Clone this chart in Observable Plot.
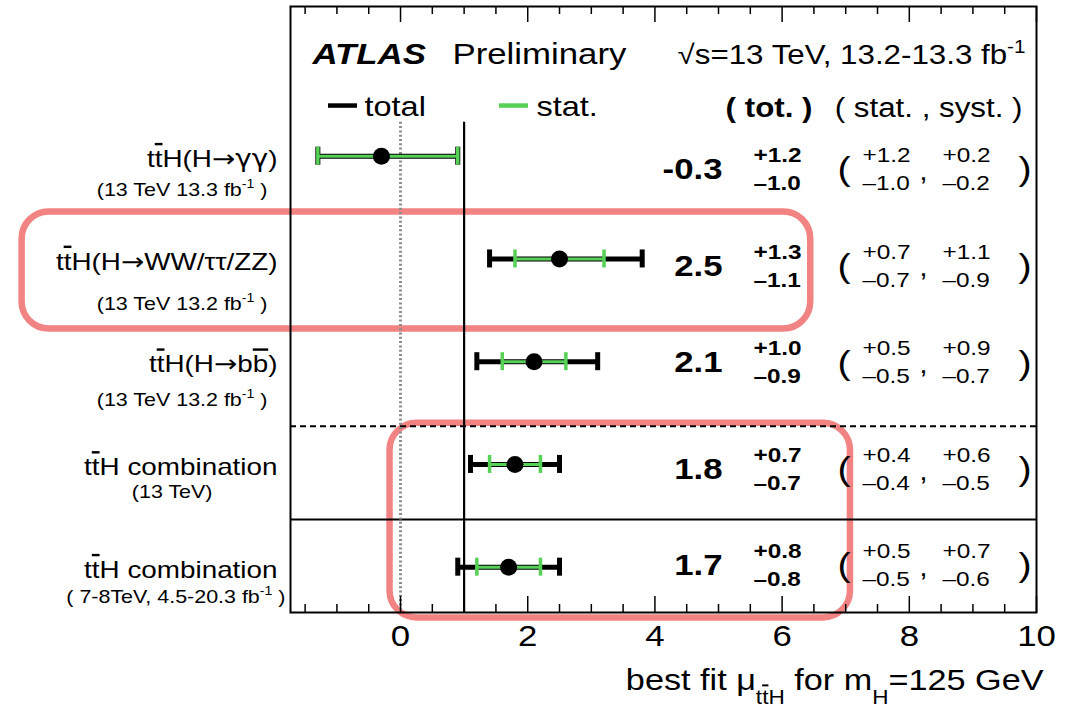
<!DOCTYPE html>
<html>
<head>
<meta charset="utf-8">
<script src="https://cdn.jsdelivr.net/npm/d3@7"></script>
<script src="https://cdn.jsdelivr.net/npm/@observablehq/plot@0.6"></script>
<style>
  html, body { margin: 0; padding: 0; background: #fff; }
  #chart svg { display: block; overflow: visible; }
</style>
</head>
<body>
<div id="chart"></div>
<script>
// ttH signal-strength summary: best-fit mu with total and statistical uncertainties
const channels = [
  "t#bar{t}H(H→γγ)",
  "t#bar{t}H(H→WW/ττ/ZZ)",
  "t#bar{t}H(H→b#bar{b})",
  "t#bar{t}H combination",
  "t#bar{t}H combination"
];
const datasets = [
  "(13 TeV 13.3 fb^{-1} )",
  "(13 TeV 13.2 fb^{-1} )",
  "(13 TeV 13.2 fb^{-1} )",
  "(13 TeV)",
  "( 7-8TeV, 4.5-20.3 fb^{-1} )"
];
const mu     = [-0.3, 2.5, 2.1, 1.8, 1.7];
const totUp  = [1.2, 1.3, 1.0, 0.7, 0.8];
const totDn  = [1.0, 1.1, 0.9, 0.7, 0.8];
const statUp = [1.2, 0.7, 0.5, 0.4, 0.5];
const statDn = [1.0, 0.7, 0.5, 0.4, 0.5];
const systUp = [0.2, 1.1, 0.9, 0.6, 0.7];
const systDn = [0.2, 0.9, 0.7, 0.5, 0.6];
const xTicks = [0, 2, 4, 6, 8, 10];
const axisTitle = "best fit μ_{t#bar{t}H} for m_{H}=125 GeV";

const rows = channels.map((label, i) => ({
  row: i, label, sub: datasets[i], mu: mu[i],
  totUp: totUp[i], totDn: totDn[i],
  statUp: statUp[i], statDn: statDn[i],
  systUp: systUp[i], systDn: systDn[i]
}));

// layout
const W = 1081, H = 718;
const M = {top: 6, right: 45, bottom: 106, left: 290};
const xDomain = [-1.73, 10];
const yTop = -1.457, yBot = 4.441;              // rows are one unit apart, top to bottom
const pxPerRow = (H - M.top - M.bottom) / (yBot - yTop);
const px = v => v / pxPerRow;                    // pixel length expressed in row units
const GREEN = "#56d156", PINK = "#f28383";
const FONT = "'Liberation Sans', Arial, Helvetica, sans-serif";
const SYMBOL_FONT = "'DejaVu Sans', sans-serif";

// per-row text placement (pixels)
const numDy = [13, 7, 1, 5, -2];
const subDx = [-23, -23, -23, -78, -5];
const subDy = [34, 45, 38, 28, 30];

// highlighted groups (x in mu units, y in row units)
const highlights = [
  {x1: -5.95, x2: 6.45, y1: 0.543, y2: 1.682},
  {x1: -0.165, x2: 7.075, y1: 2.60, y2: 4.494}
];
const dashedSep = 2.628, solidSep = 3.536, legendRow = -0.493, refTop = -0.33;

const minorTicks = d3.range(-1.5, 10, 0.5).filter(v => v % 2 !== 0);
const fmtUp = v => "+" + v.toFixed(1);
const fmtDn = v => "–" + v.toFixed(1);

const rowText = rows.flatMap((d, i) => {
  const c = {y: "row", frameAnchor: "right", lineAnchor: "middle"};
  const n = numDy[i];
  return [
    Plot.text([d], {y: "row", frameAnchor: "left", textAnchor: "end", lineAnchor: "middle",
      dx: -13, dy: 3, fontSize: 24, text: "label"}),
    Plot.text([d], {y: "row", frameAnchor: "left", textAnchor: "end", lineAnchor: "middle",
      dx: subDx[i], dy: subDy[i], fontSize: 18.5, text: "sub"}),
    Plot.text([d], {...c, text: d => d.mu.toFixed(1), textAnchor: "end", dx: -314, dy: n, fontSize: 30, fontWeight: "bold"}),
    Plot.text([d], {...c, text: d => fmtUp(d.totUp), textAnchor: "start", dx: -283, dy: n - 14, fontSize: 21, fontWeight: "bold"}),
    Plot.text([d], {...c, text: d => fmtDn(d.totDn), textAnchor: "start", dx: -283, dy: n + 14, fontSize: 21, fontWeight: "bold"}),
    Plot.text([d], {...c, text: () => "(", textAnchor: "start", dx: -199, dy: n, fontSize: 34}),
    Plot.text([d], {...c, text: d => fmtUp(d.statUp), textAnchor: "start", dx: -174, dy: n - 14, fontSize: 21}),
    Plot.text([d], {...c, text: d => fmtDn(d.statDn), textAnchor: "start", dx: -174, dy: n + 14, fontSize: 21}),
    Plot.text([d], {...c, text: () => ",", textAnchor: "middle", dx: -113, dy: n + 2, fontSize: 26}),
    Plot.text([d], {...c, text: d => fmtUp(d.systUp), textAnchor: "start", dx: -94, dy: n - 14, fontSize: 21}),
    Plot.text([d], {...c, text: d => fmtDn(d.systDn), textAnchor: "start", dx: -94, dy: n + 14, fontSize: 21}),
    Plot.text([d], {...c, text: () => ")", textAnchor: "start", dx: -18, dy: n, fontSize: 34})
  ];
});

const chart = Plot.plot({
  width: W, height: H,
  marginTop: M.top, marginRight: M.right, marginBottom: M.bottom, marginLeft: M.left,
  style: {fontFamily: FONT, background: "white", overflow: "visible"},
  x: {type: "linear", domain: xDomain, axis: null},
  y: {type: "linear", domain: [yTop, yBot], reverse: true, axis: null},
  marks: [
    // highlighted groups
    Plot.rect(highlights, {x1: "x1", x2: "x2", y1: "y1", y2: "y2", rx: 27, ry: 27,
      fill: "none", stroke: PINK, strokeWidth: 6.5}),
    // group separators
    Plot.ruleY([dashedSep], {stroke: "black", strokeWidth: 2, strokeDasharray: "6,4"}),
    Plot.ruleY([solidSep], {stroke: "black", strokeWidth: 2}),
    // mu = 0 and SM (mu = 1) references
    Plot.ruleX([0], {y1: refTop, y2: yBot, stroke: "#8c8c8c", strokeWidth: 3, strokeDasharray: "2,2.3"}),
    Plot.ruleX([1], {y1: refTop, y2: yBot, stroke: "black", strokeWidth: 2.2}),
    // inward ticks, bottom and top
    Plot.ruleX(xTicks, {y1: yBot, y2: yBot - px(16), stroke: "black", strokeWidth: 1.5}),
    Plot.ruleX(minorTicks, {y1: yBot, y2: yBot - px(8), stroke: "black", strokeWidth: 1.5}),
    Plot.ruleX(xTicks, {y1: yTop, y2: yTop + px(16), stroke: "black", strokeWidth: 1.5}),
    Plot.ruleX(minorTicks, {y1: yTop, y2: yTop + px(8), stroke: "black", strokeWidth: 1.5}),
    // total uncertainty
    Plot.ruleY(rows, {y: "row", x1: d => d.mu - d.totDn, x2: d => d.mu + d.totUp, stroke: "black", strokeWidth: 5}),
    Plot.ruleX(rows, {x: d => d.mu - d.totDn, y1: d => d.row - px(9), y2: d => d.row + px(9), stroke: "black", strokeWidth: 5}),
    Plot.ruleX(rows, {x: d => d.mu + d.totUp, y1: d => d.row - px(9), y2: d => d.row + px(9), stroke: "black", strokeWidth: 5}),
    // statistical uncertainty
    Plot.ruleY(rows, {y: "row", x1: d => d.mu - d.statDn, x2: d => d.mu + d.statUp, stroke: GREEN, strokeWidth: 3}),
    Plot.ruleX(rows, {x: d => d.mu - d.statDn, y1: d => d.row - px(9), y2: d => d.row + px(9), stroke: GREEN, strokeWidth: 3.5}),
    Plot.ruleX(rows, {x: d => d.mu + d.statUp, y1: d => d.row - px(9), y2: d => d.row + px(9), stroke: GREEN, strokeWidth: 3.5}),
    // best fit
    Plot.dot(rows, {x: "mu", y: "row", r: 8.5, fill: "black"}),
    // legend
    Plot.ruleY([legendRow], {insetLeft: 38, insetRight: 679, stroke: "black", strokeWidth: 4.5}),
    Plot.ruleY([legendRow], {insetLeft: 209, insetRight: 508, stroke: GREEN, strokeWidth: 4.5}),
    Plot.text(["total"], {frameAnchor: "top-left", textAnchor: "start", lineAnchor: "middle", dx: 74, dy: 101, fontSize: 28}),
    Plot.text(["stat."], {frameAnchor: "top-left", textAnchor: "start", lineAnchor: "middle", dx: 246, dy: 101, fontSize: 28}),
    // header
    Plot.text(["ATLAS"], {frameAnchor: "top-left", textAnchor: "start", lineAnchor: "middle", dx: 22, dy: 48,
      fontSize: 30, fontWeight: "bold", fontStyle: "italic"}),
    Plot.text(["Preliminary"], {frameAnchor: "top-left", textAnchor: "start", lineAnchor: "middle", dx: 162, dy: 48, fontSize: 30}),
    Plot.text(["√s=13 TeV, 13.2-13.3 fb^{-1}"], {frameAnchor: "top-right", textAnchor: "end", lineAnchor: "middle", dx: -11, dy: 49, fontSize: 27}),
    Plot.text(["( tot. )"], {frameAnchor: "top-right", textAnchor: "end", lineAnchor: "middle", dx: -224, dy: 102, fontSize: 27, fontWeight: "bold"}),
    Plot.text(["( stat. , syst. )"], {frameAnchor: "top-right", textAnchor: "end", lineAnchor: "middle", dx: -14, dy: 102, fontSize: 27}),
    // rows
    ...rowText,
    // x axis labels and title
    Plot.text(xTicks, {x: d => d, frameAnchor: "bottom", lineAnchor: "middle", dy: 24, fontSize: 30, text: d => String(d)}),
    Plot.text([axisTitle], {frameAnchor: "bottom-right", textAnchor: "end", lineAnchor: "middle", dx: 7, dy: 68, fontSize: 29.5}),
    Plot.frame({stroke: "black", strokeWidth: 2})
  ]
});

document.getElementById("chart").appendChild(chart);

// ROOT-style markup: ^{..} superscript, _{..} subscript, #bar{..} overline
function parseRich(str) {
  const segs = [];
  (function walk(s, st) {
    let buf = "", k = 0;
    const flush = () => { if (buf) segs.push({text: buf, ...st}); buf = ""; };
    while (k < s.length) {
      const m = /^(#bar|\^|_)\{/.exec(s.slice(k));
      if (m) {
        flush();
        let depth = 0, j = k + m[0].length - 1;
        for (; j < s.length; j++) {
          if (s[j] === "{") depth++;
          else if (s[j] === "}" && --depth === 0) break;
        }
        const ns = {...st};
        if (m[1] === "#bar") ns.bar = true;
        else ns.level = m[1] === "^" ? -1 : 1;
        walk(s.slice(k + m[0].length, j), ns);
        k = j + 1;
      } else buf += s[k++];
    }
    flush();
  })(str, {level: 0, bar: false});
  return segs;
}

const SVGNS = "http://www.w3.org/2000/svg";
const SYMBOLS = /([γ→]+)/;
const STRETCH = 1.16;   // wide Helvetica-like lettering
chart.querySelectorAll("text").forEach(t => {
  const src = t.textContent;
  if (/(#bar|\^|_)\{/.test(src) || SYMBOLS.test(src)) {
    const F = parseFloat(getComputedStyle(t).fontSize);
    t.textContent = "";
    let cur = 0;
    for (const seg of parseRich(src)) {
      const target = seg.level < 0 ? -0.42 * F : seg.level > 0 ? 0.47 * F : 0;
      for (const part of seg.text.split(SYMBOLS)) {
        if (!part) continue;
        const ts = document.createElementNS(SVGNS, "tspan");
        if (target !== cur) { ts.setAttribute("dy", target - cur); cur = target; }
        if (seg.level) ts.setAttribute("font-size", 0.66 * F);
        if (seg.bar) ts.style.textDecoration = "overline";
        if (SYMBOLS.test(part)) ts.setAttribute("font-family", SYMBOL_FONT);
        ts.textContent = part;
        t.appendChild(ts);
      }
    }
  }
  const x = t.getAttribute("x");
  let tr = t.getAttribute("transform") || "";
  if (x !== null) { tr += ` translate(${x},0)`; t.removeAttribute("x"); }
  t.setAttribute("transform", `${tr} scale(${STRETCH},1)`.trim());
});
</script>
</body>
</html>
